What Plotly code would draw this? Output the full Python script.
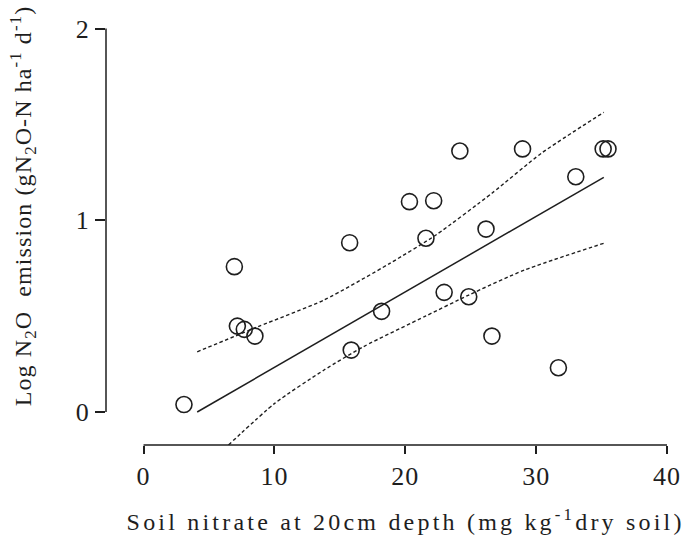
import plotly.graph_objects as go

# Soil nitrate (mg/kg dry soil) vs log N2O emission
nitrate = [3.09, 6.94, 7.17, 7.70, 8.51, 15.75, 15.87, 18.19, 20.32, 21.58, 22.17,
           22.97, 24.17, 24.85, 26.17, 26.62, 28.96, 31.70, 33.03, 35.12, 35.49]
log_n2o = [0.039, 0.758, 0.448, 0.431, 0.396, 0.883, 0.323, 0.525, 1.097, 0.906, 1.102,
           0.624, 1.361, 0.601, 0.954, 0.396, 1.372, 0.231, 1.227, 1.372, 1.372]

# Regression line
fit_x = [4.10, 35.17]
fit_y = [0.0, 1.224]

# 95% confidence limits
upper_x = [4.10, 8.75, 13.79, 18.82, 22.34, 26.62, 30.39, 35.17]
upper_y = [0.314, 0.445, 0.584, 0.775, 0.923, 1.141, 1.349, 1.563]
lower_x = [6.49, 10.02, 13.79, 16.81, 21.58, 24.85, 29.13, 35.17]
lower_y = [-0.172, 0.045, 0.219, 0.341, 0.501, 0.610, 0.741, 0.880]

x_ticks = [0, 10, 20, 30, 40]
y_ticks = [0, 1, 2]

x_title = "Soil nitrate at 20cm depth (mg kg<sup>-1</sup>dry soil)"
y_title = "Log N<sub>2</sub>O\u00a0 emission (gN<sub>2</sub>O-N ha<sup>-1</sup> d<sup>-1</sup>)"

INK = "#1e1e1e"
FONT = "Liberation Serif"

fig = go.Figure()
for bx, by in ((upper_x, upper_y), (lower_x, lower_y)):
    fig.add_trace(go.Scatter(x=bx, y=by, mode="lines",
                             line=dict(color=INK, width=1.4, dash="3.5px,2.5px",
                                       shape="spline", smoothing=0.6),
                             hoverinfo="skip"))
fig.add_trace(go.Scatter(x=fit_x, y=fit_y, mode="lines",
                         line=dict(color=INK, width=1.5)))
fig.add_trace(go.Scatter(x=nitrate, y=log_n2o, mode="markers",
                         marker=dict(symbol="circle-open", size=16,
                                     color=INK, line=dict(color=INK, width=1.6))))

# Offset axis lines spanning only the labelled range
fig.add_shape(type="line", xref="paper", yref="y", x0=0, x1=0, y0=0, y1=2,
              line=dict(color=INK, width=1.5))
fig.add_shape(type="line", xref="x", yref="paper", x0=0, x1=40, y0=0, y1=0,
              line=dict(color=INK, width=1.5))

# Axis titles
fig.add_annotation(text=x_title, xref="paper", yref="paper", x=0.5325, y=-0.18,
                   xanchor="center", yanchor="middle", showarrow=False,
                   font=dict(family=FONT, size=24, color=INK))
fig.add_annotation(text=y_title, xref="paper", yref="paper", x=-0.1476, y=0.573,
                   xanchor="center", yanchor="middle", showarrow=False, textangle=-90,
                   font=dict(family=FONT, size=24, color=INK))

fig.update_layout(
    width=692, height=538,
    margin=dict(l=106, r=17, t=28, b=93),
    paper_bgcolor="white", plot_bgcolor="white",
    showlegend=False,
    font=dict(family=FONT, color=INK, size=24),
    xaxis=dict(range=[-2.868, 40.075], tickvals=x_ticks, ticks="outside",
               ticklen=8, tickwidth=1.5, tickcolor=INK, showline=False,
               showgrid=False, zeroline=False,
               tickfont=dict(family=FONT, size=26, color=INK)),
    yaxis=dict(range=[-0.172, 2.0026], tickvals=y_ticks, ticks="outside",
               ticklen=10, tickwidth=1.5, tickcolor=INK, showline=False,
               showgrid=False, zeroline=False,
               tickfont=dict(family=FONT, size=26, color=INK)),
)

# Wide tracking of the axis texts
spacing_css = """
var st = document.createElement('style');
st.textContent = '.xtick text, .ytick text {letter-spacing: 1px;} '
  + 'g.annotation[data-index="0"] text {letter-spacing: 3.2px;} '
  + 'g.annotation[data-index="1"] text {letter-spacing: 1.1px;}';
document.head.appendChild(st);
"""

fig.write_html("out.html", post_script=spacing_css)
